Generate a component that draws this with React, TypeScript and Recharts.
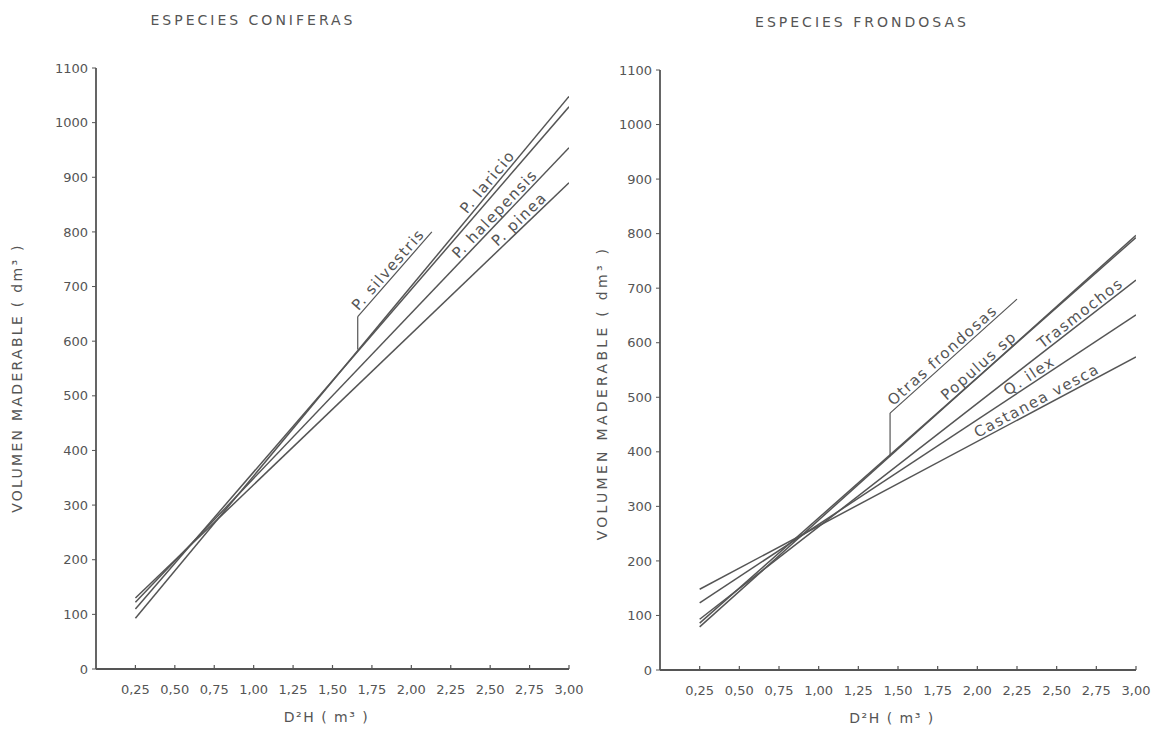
import React from "react";
import { LineChart, Line, XAxis, YAxis, ReferenceLine } from "recharts";

// D²H (m³) at the two ends of every fitted line
const dh = [0.25, 3.0];
const xTicks = [0.25, 0.5, 0.75, 1.0, 1.25, 1.5, 1.75, 2.0, 2.25, 2.5, 2.75, 3.0];
const yTicks = [0, 100, 200, 300, 400, 500, 600, 700, 800, 900, 1000, 1100];

// coniferas, volumen (dm³) at D²H = 0.25 and 3.00
const laricio = [93, 1048];
const silvestris = [110, 1029];
const halepensis = [122, 954];
const pinea = [130, 890];

// frondosas
const otras = [79, 797];
const populus = [86, 793];
const trasmochos = [93, 715];
const qIlex = [123, 651];
const castanea = [148, 574];

const INK = "#555";
const FONT = "'DejaVu Sans', sans-serif";

const toPoints = (vals: number[]) => dh.map((x, i) => ({ x, y: vals[i] }));
const fmt = (v: number) => v.toFixed(2).replace(".", ",");

type Series = { name: string; vals: number[]; t?: number };

// text written along a segment, at fraction t of its length
function alongLabel(text: string, t: number, off = 3) {
  return (props: any) => {
    const vb = props.viewBox || {};
    let x1, y1, x2, y2;
    if (vb.x1 != null) {
      x1 = vb.x1; y1 = vb.y1; x2 = vb.x2; y2 = vb.y2;
    } else {
      x1 = vb.x; y1 = vb.y + vb.height; x2 = vb.x + vb.width; y2 = vb.y;
    }
    const ang = (Math.atan2(y2 - y1, x2 - x1) * 180) / Math.PI;
    const px = x1 + (x2 - x1) * t;
    const py = y1 + (y2 - y1) * t;
    return (
      <text
        x={px}
        y={py - off}
        transform={`rotate(${ang} ${px} ${py})`}
        fill={INK}
        fontFamily={FONT}
        fontSize={15}
        letterSpacing={1.5}
      >
        {text}
      </text>
    );
  };
}

const XTick = (props: any) => {
  const { x, y, payload } = props;
  return (
    <g>
      <line x1={x} y1={y} x2={x} y2={y - 4} stroke={INK} strokeWidth={1.2} />
      <text x={x} y={y + 25} textAnchor="middle" fill={INK} fontFamily={FONT} fontSize={13}>
        {fmt(payload.value)}
      </text>
    </g>
  );
};

interface PanelProps {
  series: Series[];
  width: number;
  top: number;
  right: number;
  yAxisWidth: number;
  xAxisHeight: number;
  yLabelX: number;
  yLabelY: number;
  yLabelSpacing: number;
  callout: { text: string; x: number; y0: number; y1: number; x2: number; y2: number };
}

function Panel(p: PanelProps) {
  return (
    <LineChart width={p.width} height={730} margin={{ top: p.top, right: p.right, bottom: 0, left: 40 }}>
      <XAxis
        type="number"
        dataKey="x"
        domain={[0, 3]}
        ticks={xTicks}
        allowDataOverflow
        tickSize={0}
        tickMargin={0}
        tickLine={false}
        tick={<XTick />}
        height={p.xAxisHeight}
        axisLine={{ stroke: INK, strokeWidth: 1.8 }}
        label={{
          content: (lp: any) => {
            const vb = lp.viewBox;
            return (
              <text
                x={vb.x + vb.width / 2 - 6}
                y={vb.y + 53}
                textAnchor="middle"
                fill={INK}
                fontFamily={FONT}
                fontSize={14}
                letterSpacing={1.5}
              >
                D²H  ( m³ )
              </text>
            );
          }
        }}
      />
      <YAxis
        type="number"
        domain={[0, 1100]}
        ticks={yTicks}
        width={p.yAxisWidth}
        tickSize={4}
        tickMargin={4}
        tickLine={{ stroke: INK }}
        axisLine={{ stroke: INK, strokeWidth: 1.8 }}
        tick={{ fill: INK, fontFamily: FONT, fontSize: 13 }}
        label={{
          content: () => (
            <text
              x={p.yLabelX}
              y={p.yLabelY}
              textAnchor="middle"
              dominantBaseline="central"
              transform={`rotate(-90 ${p.yLabelX} ${p.yLabelY})`}
              fill={INK}
              fontFamily={FONT}
              fontSize={14}
              letterSpacing={p.yLabelSpacing}
            >
              VOLUMEN MADERABLE ( dm³ )
            </text>
          )
        }}
      />
      {p.series.map((s) => (
        <Line
          key={s.name}
          data={toPoints(s.vals)}
          dataKey="y"
          name={s.name}
          stroke={INK}
          strokeWidth={1.5}
          dot={false}
          activeDot={false}
          isAnimationActive={false}
        />
      ))}
      {p.series
        .filter((s) => s.t != null)
        .map((s) => (
          <ReferenceLine
            key={"lab-" + s.name}
            segment={toPoints(s.vals)}
            stroke="none"
            ifOverflow="visible"
            label={alongLabel(s.name, s.t as number)}
          />
        ))}
      <ReferenceLine
        segment={[
          { x: p.callout.x, y: p.callout.y0 },
          { x: p.callout.x, y: p.callout.y1 }
        ]}
        stroke={INK}
        strokeWidth={1.2}
        ifOverflow="visible"
      />
      <ReferenceLine
        segment={[
          { x: p.callout.x, y: p.callout.y1 },
          { x: p.callout.x2, y: p.callout.y2 }
        ]}
        stroke={INK}
        strokeWidth={1.2}
        ifOverflow="visible"
        label={alongLabel(p.callout.text, 0.04)}
      />
    </LineChart>
  );
}

const titleStyle: React.CSSProperties = {
  position: "absolute",
  top: 11,
  width: 320,
  textAlign: "center",
  fontFamily: FONT,
  fontSize: 14,
  letterSpacing: 3,
  color: INK,
  lineHeight: "18px"
};

export default function App() {
  return (
    <div style={{ position: "absolute", left: 0, top: 0, width: 1155, height: 730, background: "#fff" }}>
      <div style={{ ...titleStyle, left: 253 - 160 }}>ESPECIES CONIFERAS</div>
      <div style={{ ...titleStyle, left: 862 - 160, top: 13 }}>ESPECIES FRONDOSAS</div>
      <div style={{ position: "absolute", left: 0, top: 0 }}>
        <Panel
          width={600}
          top={68}
          right={31}
          yAxisWidth={56}
          xAxisHeight={61}
          yLabelX={17}
          yLabelY={378}
          yLabelSpacing={2.3}
          series={[
            { name: "P. laricio", vals: laricio, t: 0.77 },
            { name: "P. silvestris", vals: silvestris },
            { name: "P. halepensis", vals: halepensis, t: 0.75 },
            { name: "P. pinea", vals: pinea, t: 0.84 }
          ]}
          callout={{ text: "P. silvestris", x: 1.66, y0: 585, y1: 645, x2: 2.13, y2: 800 }}
        />
      </div>
      <div style={{ position: "absolute", left: 565, top: 0 }}>
        <Panel
          width={590}
          top={70}
          right={19}
          yAxisWidth={55}
          xAxisHeight={60}
          yLabelX={37}
          yLabelY={393}
          yLabelSpacing={3.3}
          series={[
            { name: "Otras frondosas", vals: otras },
            { name: "Populus sp", vals: populus, t: 0.57 },
            { name: "Trasmochos", vals: trasmochos, t: 0.79 },
            { name: "Q. ilex", vals: qIlex, t: 0.71 },
            { name: "Castanea vesca", vals: castanea, t: 0.64 }
          ]}
          callout={{ text: "Otras frondosas", x: 1.45, y0: 392, y1: 471, x2: 2.25, y2: 680 }}
        />
      </div>
    </div>
  );
}
